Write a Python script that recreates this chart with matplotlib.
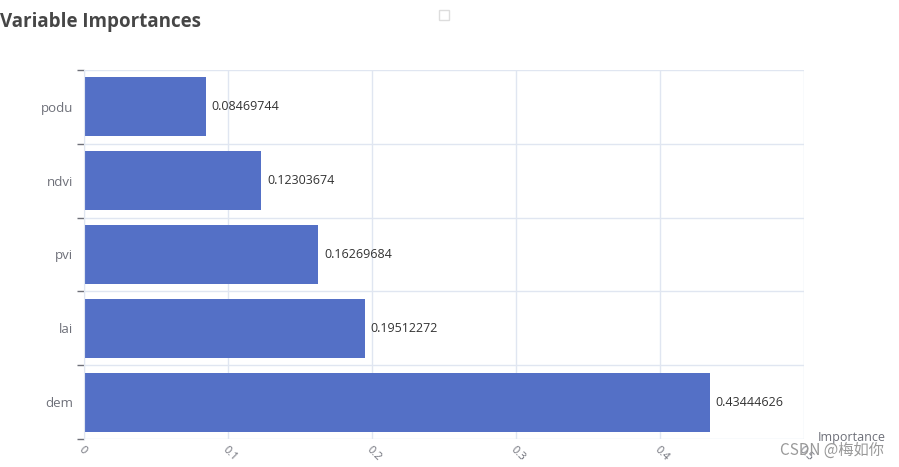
import matplotlib
matplotlib.use("Agg")
import matplotlib.pyplot as plt
from matplotlib.patches import Rectangle

plt.rcParams['font.family'] = ['Open Sans', 'Noto Sans CJK SC', 'DejaVu Sans']

categories = ["dem", "lai", "pvi", "ndvi", "podu"]
values = [0.43444626, 0.19512272, 0.16269684, 0.12303674, 0.08469744]
value_labels = ["0.43444626", "0.19512272", "0.16269684", "0.12303674", "0.08469744"]
xticks = [0, 0.1, 0.2, 0.3, 0.4, 0.5]
xtick_labels = ["0", "0.1", "0.2", "0.3", "0.4", "0.5"]

W, H = 899, 467
fig = plt.figure(figsize=(W / 100, H / 100), dpi=100)
ax = fig.add_axes([84 / W, 1 - 439 / H, (804 - 84) / W, (439 - 70) / H])

bar_color = "#5470c6"
pos = list(range(len(categories)))
ax.barh(pos, values, height=0.8, color=bar_color, zorder=3)
for p, v, lab in zip(pos, values, value_labels):
    ax.text(v + 0.004, p, lab, va="center", ha="left", fontsize=9, color="#333333")

ax.set_xlim(0, 0.5)
ax.set_ylim(-0.5, len(categories) - 0.5)
grid_c = "#e0e6f1"
for x in xticks:
    ax.axvline(x, color=grid_c, lw=1, zorder=1)
for b in [i - 0.5 for i in range(len(categories) + 1)]:
    ax.axhline(b, color=grid_c, lw=1, zorder=1)

ax.set_xticks(xticks)
ax.set_xticklabels(xtick_labels, rotation=-45, ha="left", va="top", fontsize=8,
                   color="#6e7079", rotation_mode="anchor")
ax.tick_params(axis="x", length=0, pad=4)
ax.set_yticks([i - 0.5 for i in range(len(categories) + 1)], minor=False)
ax.set_yticklabels([])
ax.tick_params(axis="y", length=5, color="#6e7079", width=1)
ax.set_yticks(pos, minor=True)
ax.set_yticklabels(categories, minor=True, fontsize=9.5, color="#6e7079")
ax.tick_params(axis="y", which="minor", length=0, pad=8)

for s in ["top", "right", "bottom"]:
    ax.spines[s].set_visible(False)
ax.spines["left"].set_color(grid_c)
ax.spines["left"].set_zorder(4)

fig.text(0 / W, 1 - 22 / H, "Variable Importances", fontsize=13.5, fontweight="bold",
         color="#464646", ha="left", va="center")
fig.patches.append(Rectangle((439 / W, 1 - 20 / H), 10 / W, 10 / H, transform=fig.transFigure,
                             fill=False, edgecolor="#dddddd", lw=1))
fig.text(818 / W, 1 - 438 / H, "Importance", fontsize=9, color="#6e7079", ha="left", va="center")
fig.text(884 / W, 1 - 450 / H, "CSDN @梅如你", fontsize=11, color="#999999", ha="right", va="center",
         family=['Noto Sans CJK SC', 'DejaVu Sans'])

fig.savefig("out.png", dpi=100)
